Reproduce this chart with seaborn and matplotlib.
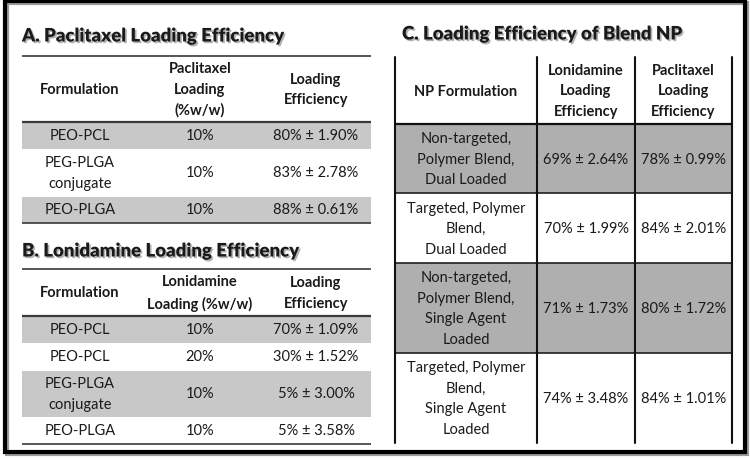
import matplotlib
matplotlib.use("Agg")
import matplotlib.pyplot as plt
import matplotlib.patheffects as pe
from matplotlib.patches import Rectangle
import seaborn as sns

# --- data ---------------------------------------------------------------
a_formulation = ["PEO-PCL", "PEG-PLGA\nconjugate", "PEO-PLGA"]
a_loading = [10, 10, 10]
a_eff = [80, 83, 88]
a_sd = [1.90, 2.78, 0.61]

b_formulation = ["PEO-PCL", "PEO-PCL", "PEG-PLGA\nconjugate", "PEO-PLGA"]
b_loading = [10, 20, 10, 10]
b_eff = [70, 30, 5, 5]
b_sd = [1.09, 1.52, 3.00, 3.58]

c_formulation = ["Non-targeted,\nPolymer Blend,\nDual Loaded",
                 "Targeted, Polymer\nBlend,\nDual Loaded",
                 "Non-targeted,\nPolymer Blend,\nSingle Agent\nLoaded",
                 "Targeted, Polymer\nBlend,\nSingle Agent\nLoaded"]
c_lon_eff = [69, 70, 71, 74]
c_lon_sd = [2.64, 1.99, 1.73, 3.48]
c_pac_eff = [78, 84, 80, 84]
c_pac_sd = [0.99, 2.01, 1.72, 1.01]

a_headers = ["Formulation", "Paclitaxel\nLoading\n(%w/w)", "Loading\nEfficiency"]
b_headers = ["Formulation", "Lonidamine\nLoading (%w/w)", "Loading\nEfficiency"]
c_headers = ["NP Formulation", "Lonidamine\nLoading\nEfficiency", "Paclitaxel\nLoading\nEfficiency"]

# --- style --------------------------------------------------------------
sns.set_theme(style="white")
plt.rcParams['font.family'] = ['Lato', 'DejaVu Sans']

TEXT = "#1a1a1a"
GRAY_AB = "#c8c8c8"
GRAY_C = "#afafaf"
BODY_FS = 10.5
HEAD_FS = 10.5
TITLE_FS = 13.4
LS = 1.6

fig = plt.figure(figsize=(7.5, 4.6), dpi=100)
ax = fig.add_axes([0, 0, 1, 1])
ax.set_xlim(0, 750)
ax.set_ylim(460, 0)
ax.axis("off")

shadow = [pe.SimplePatchShadow(offset=(1.2, -1.2), shadow_rgbFace="gray", alpha=0.6), pe.Normal()]


def fmt(v, s):
    return f"{v}% \u00b1 {s:.2f}%"


def title(x, y, s):
    ax.text(x, y, s, fontsize=TITLE_FS, fontweight="heavy", color=TEXT,
            ha="left", va="center", path_effects=shadow)


def cell(x, y, s, bold=False):
    ax.text(x, y, s, fontsize=HEAD_FS if bold else BODY_FS,
            fontweight="bold" if bold else "normal", color=TEXT,
            ha="center", va="center", linespacing=LS, multialignment="center")


def simple_table(top, head_bottom, rows, x0=22, x1=371, cols=(80, 200, 316),
                 headers=(), base_h=27, line_h=20.5):
    ax.plot([x0, x1], [top, top], color="#3a3a3a", lw=1.2, solid_capstyle="butt")
    hy = (top + head_bottom) / 2
    for cx, h in zip(cols, headers):
        cell(cx, hy, h, bold=True)
    ax.plot([x0, x1], [head_bottom, head_bottom], color="#3a3a3a", lw=1.6, solid_capstyle="butt")
    y = head_bottom
    for i, row in enumerate(rows):
        n = max(r.count("\n") + 1 for r in row)
        h = base_h + line_h * (n - 1)
        if i % 2 == 0:
            ax.add_patch(Rectangle((x0, y + 1), x1 - x0, h - 1, color=GRAY_AB, lw=0))
        for cx, s in zip(cols, row):
            cell(cx, y + h / 2, s)
        y += h
    ax.plot([x0, x1], [y, y], color="#3a3a3a", lw=1.2, solid_capstyle="butt")


# A
title(22, 37, "A. Paclitaxel Loading Efficiency")
rows_a = [(f, f"{l}%", fmt(e, s)) for f, l, e, s in zip(a_formulation, a_loading, a_eff, a_sd)]
simple_table(57, 123, rows_a, headers=a_headers, line_h=20)

# B
title(22, 252, "B. Lonidamine Loading Efficiency")
rows_b = [(f, f"{l}%", fmt(e, s)) for f, l, e, s in zip(b_formulation, b_loading, b_eff, b_sd)]
simple_table(270, 317, rows_b, headers=b_headers, line_h=20)

# C
title(402, 35, "C. Loading Efficiency of Blend NP")
c_vx = [395, 537, 635, 732]
c_cols = [(a + b) / 2 for a, b in zip(c_vx[:-1], c_vx[1:])]
c_top, c_head = 58, 125
for cx, h in zip(c_cols, c_headers):
    cell(cx, (c_top + c_head) / 2, h, bold=True)
y = c_head
for i, (f, le, ls_, pv, ps) in enumerate(zip(c_formulation, c_lon_eff, c_lon_sd, c_pac_eff, c_pac_sd)):
    n = f.count("\n") + 1
    h = 28 + 20.7 * (n - 1)
    if i % 2 == 0:
        ax.add_patch(Rectangle((c_vx[0], y), c_vx[-1] - c_vx[0], h, color=GRAY_C, lw=0))
    ax.plot([c_vx[0], c_vx[-1]], [y, y], color="#111111", lw=1.1 if i else 1.6)
    for cx, s in zip(c_cols, (f, fmt(le, ls_), fmt(pv, ps))):
        cell(cx, y + h / 2, s)
    y += h
for vx in c_vx:
    ax.plot([vx, vx], [c_top, y], color="#111111", lw=1.5)

# outer frame with a little shadow
ax.add_patch(Rectangle((7, 4), 740, 451, fill=False, ec="#9a9a9a", lw=3))
ax.add_patch(Rectangle((5, 2), 740, 451, fill=False, ec="black", lw=3))

fig.savefig("out.png", dpi=100)
